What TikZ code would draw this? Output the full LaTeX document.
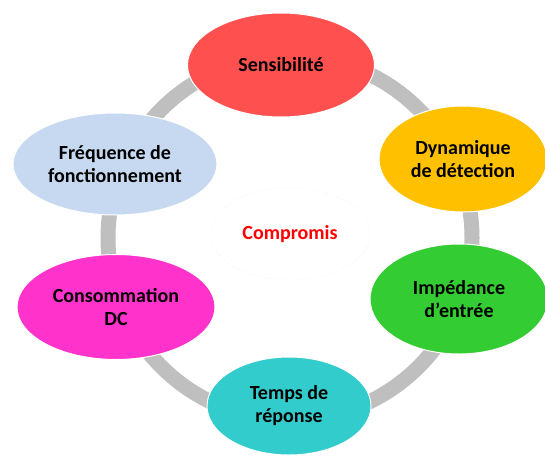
\documentclass[tikz,border=0pt]{standalone}
\usepackage{fontspec}
\setmainfont{Carlito}
\definecolor{crimson}{RGB}{255,80,80}
\definecolor{ambre}{RGB}{255,192,0}
\definecolor{vert}{RGB}{51,204,51}
\definecolor{turquoise}{RGB}{51,204,204}
\definecolor{rose}{RGB}{255,51,204}
\definecolor{bleuclair}{RGB}{198,217,241}
\definecolor{anneau}{RGB}{191,191,191}
\definecolor{rouge}{RGB}{255,0,0}
\usetikzlibrary{positioning,shapes.geometric}

\begin{document}
\begin{tikzpicture}[x=1pt, y=-1pt,
  bulle/.style={ellipse, draw=white, line width=1pt, align=center, inner sep=0pt,
    font=\fontsize{20}{23}\selectfont\bfseries, text=black}]
  \useasboundingbox (0,0) rectangle (545,455);

  % anneau
  \coordinate (milieu) at (290,238);
  \draw[anneau, line width=15pt] (milieu) circle[radius=182];

  % centre
  \node[ellipse, draw=black!12, dotted, fill=white, minimum width=160pt, minimum height=92pt,
    font=\fontsize{20}{23}\selectfont\bfseries, text=rouge] (centre) at (290,234) {Compromis};

  \node[bulle, fill=crimson, minimum width=187pt, minimum height=104pt] (sens) at (281,65) {Sensibilit\'e};
  \node[bulle, fill=ambre, minimum width=168pt, minimum height=106pt] (dyn) at (463,159) {Dynamique\\de d\'etection};
  \node[bulle, fill=vert, minimum width=178pt, minimum height=110pt] (imp) at (459,299) {Imp\'edance\\d’entr\'ee};
  \node[bulle, fill=turquoise, minimum width=164pt, minimum height=98pt] (temps) at (289,406) {Temps de\\r\'eponse};
  \node[bulle, fill=rose, minimum width=198pt, minimum height=105pt] (conso) at (116,307) {Consommation\\DC};
  \node[bulle, fill=bleuclair, minimum width=204pt, minimum height=102pt] (freq) at (115,164) {Fr\'equence de\\fonctionnement};
\end{tikzpicture}
\end{document}
